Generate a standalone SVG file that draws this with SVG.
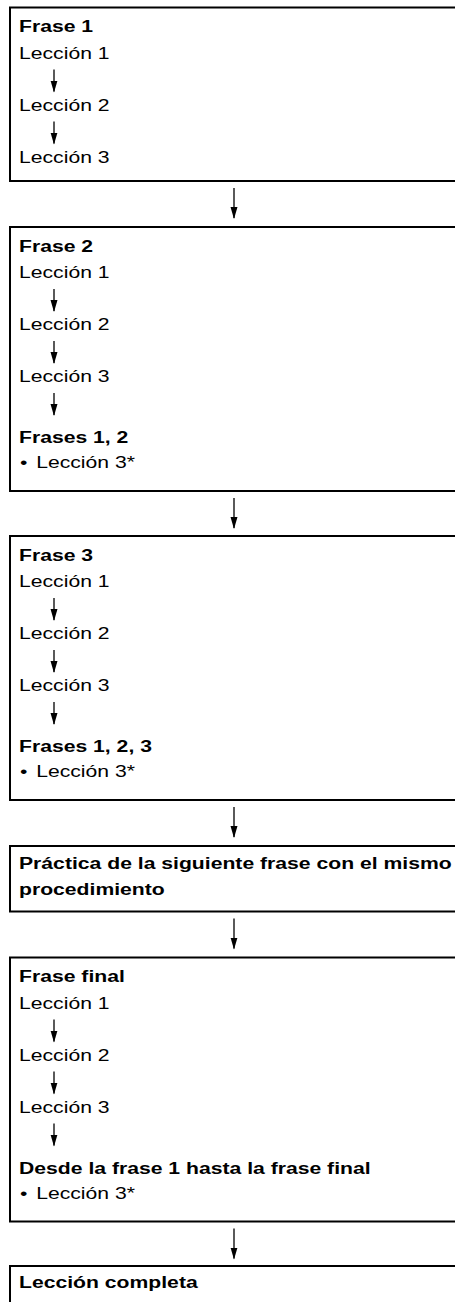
<svg xmlns="http://www.w3.org/2000/svg" width="455" height="1302" viewBox="0 0 455 1302">
<style>
text{font-family:"Liberation Sans",Arial,Helvetica,sans-serif;font-size:17px;fill:#000}
.b{font-weight:bold}
.box{fill:#fff;stroke:#000;stroke-width:2}
.arr{stroke:#000;stroke-width:1.3;fill:none;marker-end:url(#ah)}
</style>
<defs>
<marker id="ah" viewBox="0 -4 12 8" refX="11" refY="0" markerWidth="12" markerHeight="8" markerUnits="userSpaceOnUse" orient="auto">
<path d="M0,-3.5 L12,0 L0,3.5 z" fill="#000"/>
</marker>
</defs>
<rect width="455" height="1302" fill="#fff"/>
<g id="frase1">
<rect class="box" x="10" y="7.5" width="460" height="173.5"/>
<text class="b" transform="translate(19 32) scale(1.245 1)">Frase 1</text>
<text transform="translate(19 58.5) scale(1.245 1)">Lección 1</text>
<text transform="translate(19 110.5) scale(1.245 1)">Lección 2</text>
<text transform="translate(19 162.5) scale(1.245 1)">Lección 3</text>
</g>
<g id="frase2">
<rect class="box" x="10" y="227" width="460" height="264"/>
<text class="b" transform="translate(19 251.5) scale(1.245 1)">Frase 2</text>
<text transform="translate(19 278) scale(1.245 1)">Lección 1</text>
<text transform="translate(19 330) scale(1.245 1)">Lección 2</text>
<text transform="translate(19 382) scale(1.245 1)">Lección 3</text>
<text class="b" transform="translate(19 443) scale(1.245 1)">Frases 1, 2</text>
<text transform="translate(20 468) scale(1.245 1)"><tspan x="0">•</tspan><tspan x="13">Lección 3*</tspan></text>
</g>
<g id="frase3">
<rect class="box" x="10" y="536" width="460" height="264"/>
<text class="b" transform="translate(19 560.5) scale(1.245 1)">Frase 3</text>
<text transform="translate(19 587) scale(1.245 1)">Lección 1</text>
<text transform="translate(19 639) scale(1.245 1)">Lección 2</text>
<text transform="translate(19 691) scale(1.245 1)">Lección 3</text>
<text class="b" transform="translate(19 752) scale(1.245 1)">Frases 1, 2, 3</text>
<text transform="translate(20 777) scale(1.245 1)"><tspan x="0">•</tspan><tspan x="13">Lección 3*</tspan></text>
</g>
<g id="practica">
<rect class="box" x="10" y="846" width="460" height="65.5"/>
<text class="b" transform="translate(19 869) scale(1.245 1)">Práctica de la siguiente frase con el mismo</text>
<text class="b" transform="translate(19 895) scale(1.245 1)">procedimiento</text>
</g>
<g id="frasefinal">
<rect class="box" x="10" y="957.5" width="460" height="264"/>
<text class="b" transform="translate(19 982) scale(1.245 1)">Frase final</text>
<text transform="translate(19 1008.5) scale(1.245 1)">Lección 1</text>
<text transform="translate(19 1060.5) scale(1.245 1)">Lección 2</text>
<text transform="translate(19 1112.5) scale(1.245 1)">Lección 3</text>
<text class="b" transform="translate(19 1173.5) scale(1.245 1)">Desde la frase 1 hasta la frase final</text>
<text transform="translate(20 1198.5) scale(1.245 1)"><tspan x="0">•</tspan><tspan x="13">Lección 3*</tspan></text>
</g>
<g id="completa">
<rect class="box" x="10" y="1266" width="460" height="60"/>
<text class="b" transform="translate(19 1288) scale(1.245 1)">Lección completa</text>
</g>
<g id="connectors">
<path class="arr" d="M54,69.5 V91.5"/>
<path class="arr" d="M54,121.5 V143.5"/>
<path class="arr" d="M234,188 V218"/>
<path class="arr" d="M54,289 V311"/>
<path class="arr" d="M54,341 V363"/>
<path class="arr" d="M54,393 V415"/>
<path class="arr" d="M234,498 V528"/>
<path class="arr" d="M54,598 V620"/>
<path class="arr" d="M54,650 V672"/>
<path class="arr" d="M54,702 V724"/>
<path class="arr" d="M234,807 V837"/>
<path class="arr" d="M234,918.5 V948.5"/>
<path class="arr" d="M54,1019.5 V1041.5"/>
<path class="arr" d="M54,1071.5 V1093.5"/>
<path class="arr" d="M54,1123.5 V1145.5"/>
<path class="arr" d="M234,1228.5 V1258.5"/>
</g>
</svg>
